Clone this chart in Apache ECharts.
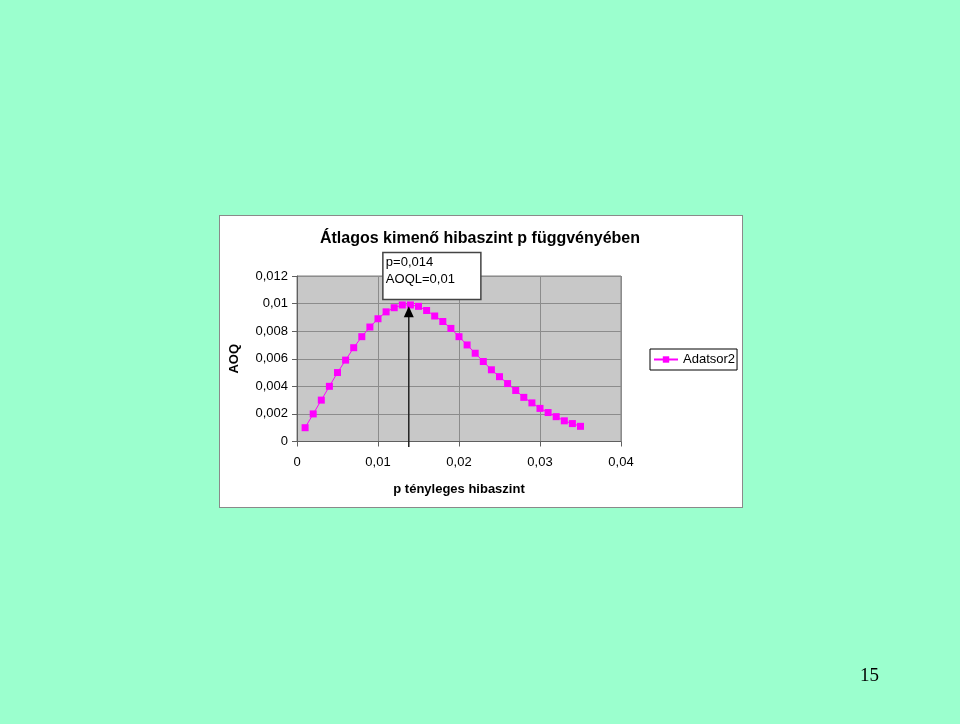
<!DOCTYPE html>
<html>
<head>
<meta charset="utf-8">
<script src="https://cdn.jsdelivr.net/npm/echarts@6/dist/echarts.min.js"></script>
<style>
  html, body { margin:0; padding:0; background:#9BFFCE; }
  #wrap { position:relative; width:960px; height:724px; background:#9BFFCE; overflow:hidden; }
  #box { position:absolute; left:219px; top:215px; width:522px; height:291px; background:#fff; border:1px solid #8a8a8a; }
  #chart { position:absolute; left:0; top:0; width:960px; height:724px; }
</style>
</head>
<body>
<div id="wrap">
  <div id="box"></div>
  <div id="chart"></div>
</div>
<script>
// p values (actual defect level)
var pValues = [0.001,0.002,0.003,0.004,0.005,0.006,0.007,0.008,0.009,0.010,
               0.011,0.012,0.013,0.014,0.015,0.016,0.017,0.018,0.019,0.020,
               0.021,0.022,0.023,0.024,0.025,0.026,0.027,0.028,0.029,0.030,
               0.031,0.032,0.033,0.034,0.035];
// AOQ values
var aoqValues = [0.0010,0.0020,0.0030,0.0040,0.0050,0.0059,0.0068,0.0076,0.0083,0.0089,
                 0.0094,0.0097,0.0099,0.0099,0.0098,0.0095,0.0091,0.0087,0.0082,0.0076,
                 0.0070,0.0064,0.0058,0.0052,0.0047,0.0042,0.0037,0.0032,0.0028,0.0024,
                 0.0021,0.0018,0.0015,0.0013,0.0011];
var titleText = 'Átlagos kimenő hibaszint p függvényében';
var xName = 'p tényleges hibaszint';
var yName = 'AOQ';
var seriesName = 'Adatsor2';
var noteLines = ['p=0,014', 'AOQL=0,01'];
var arrowP = 0.0138;
var arrowTop = 0.0098;
var pageNumber = '15';

function fmt(v) { return String(+v.toFixed(4)).replace('.', ','); }

var chart = echarts.init(document.getElementById('chart'), null, {renderer:'canvas'});
var font = '"Liberation Sans", Arial, sans-serif';
chart.setOption({
  backgroundColor: 'transparent',
  animation: false,
  title: {
    text: titleText, left: 'center', top: 226,
    textStyle: { fontFamily: font, fontSize: 16, fontWeight: 'bold', color: '#000' }
  },
  legend: {
    data: [seriesName], left: 650, top: 349,
    orient: 'vertical', padding: [4, 2, 4, 3],
    borderColor: '#000', borderWidth: 1, backgroundColor: '#fff',
    itemWidth: 24, itemHeight: 8, itemGap: 0,
    textStyle: { fontFamily: font, fontSize: 13, color: '#000' }
  },
  grid: {
    left: 297, top: 276, width: 324, height: 165.5,
    show: true, backgroundColor: '#C8C8C8', borderColor: '#808080', borderWidth: 1
  },
  xAxis: {
    type: 'value', min: 0, max: 0.04, interval: 0.01,
    name: xName, nameLocation: 'middle', nameGap: 41,
    nameTextStyle: { fontFamily: font, fontSize: 13, fontWeight: 'bold', color: '#000' },
    axisLine: { lineStyle: { color: '#606060', width: 1 } },
    axisTick: { show: true, inside: false, length: 5, lineStyle: { color: '#606060' } },
    axisLabel: { margin: 14, fontFamily: font, fontSize: 13, color: '#000', formatter: fmt },
    splitLine: { show: true, lineStyle: { color: '#8c8c8c', width: 1 } }
  },
  yAxis: {
    type: 'value', min: 0, max: 0.012, interval: 0.002,
    name: yName, nameLocation: 'middle', nameGap: 56, nameRotate: 90,
    nameTextStyle: { fontFamily: font, fontSize: 13, fontWeight: 'bold', color: '#000' },
    axisLine: { show: true, lineStyle: { color: '#606060', width: 1 } },
    axisTick: { show: true, inside: false, length: 5, lineStyle: { color: '#606060' } },
    axisLabel: { margin: 9, fontFamily: font, fontSize: 13, color: '#000', formatter: fmt },
    splitLine: { show: true, lineStyle: { color: '#8c8c8c', width: 1 } }
  },
  series: [{
    name: seriesName, type: 'line',
    data: pValues.map(function (p, i) { return [p, aoqValues[i]]; }),
    symbol: 'rect', symbolSize: 7, showSymbol: true,
    lineStyle: { color: '#FF00FF', width: 1 },
    itemStyle: { color: '#FF00FF', borderWidth: 0 },
    clip: false
  }]
});

function px(x, y) { return chart.convertToPixel({ gridIndex: 0 }, [x, y]); }
var bottom = px(arrowP, -0.0004);
var tip = px(arrowP, arrowTop);
var bl = px(0.0106, 0.0103);
var tr = px(0.0227, 0.0137);
chart.setOption({
  graphic: [
    { type: 'line', z: 50, shape: { x1: bottom[0], y1: bottom[1], x2: tip[0], y2: tip[1] + 8 },
      style: { stroke: '#222', lineWidth: 1.5 } },
    { type: 'polygon', z: 50, shape: { points: [[tip[0], tip[1]], [tip[0] - 5, tip[1] + 11], [tip[0] + 5, tip[1] + 11]] },
      style: { fill: '#000' } },
    { type: 'rect', z: 50, shape: { x: bl[0], y: tr[1], width: tr[0] - bl[0], height: bl[1] - tr[1] },
      style: { fill: '#fff', stroke: '#444', lineWidth: 1.5 } },
    { type: 'text', z: 51, x: bl[0] + 3, y: tr[1] + 1,
      style: { text: noteLines.join('\n'), fontFamily: font, fontSize: 13, lineHeight: 17, fill: '#000' } },
    { type: 'text', z: 51, x: 860, y: 667,
      style: { text: pageNumber, fontFamily: '"Liberation Serif", "Times New Roman", serif', fontSize: 19, fill: '#000' } }
  ]
});
</script>
</body>
</html>
